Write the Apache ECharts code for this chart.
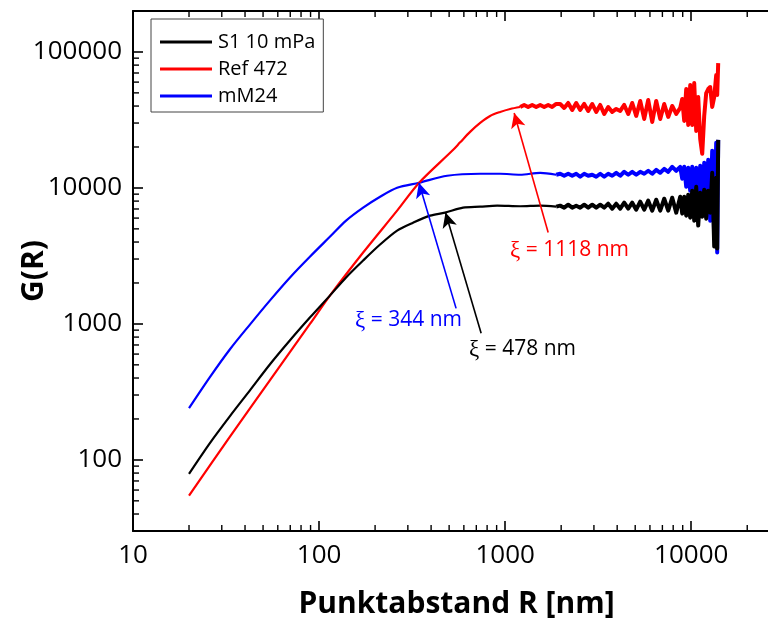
<!DOCTYPE html>
<html>
<head>
<meta charset="utf-8">
<script src="https://cdn.jsdelivr.net/npm/echarts@6/dist/echarts.min.js"></script>
<style>
  html, body { margin: 0; padding: 0; background: #fff; }
  #chart { width: 768px; height: 625px; }
</style>
</head>
<body>
<div id="chart"></div>
<script>
// ---- Axis ranges (log-log) ----
const X_MIN = 10, X_MAX = 30000;
const Y_MIN = 30, Y_MAX = 200000;

// Minor tick positions (2..9 within each decade)
const X_MINOR = [20, 30, 40, 50, 60, 70, 80, 90, 200, 300, 400, 500, 600, 700, 800, 900,
                 2000, 3000, 4000, 5000, 6000, 7000, 8000, 9000, 20000];
const Y_MINOR = [40, 50, 60, 70, 80, 90, 200, 300, 400, 500, 600, 700, 800, 900,
                 2000, 3000, 4000, 5000, 6000, 7000, 8000, 9000,
                 20000, 30000, 40000, 50000, 60000, 70000, 80000, 90000];

// Shared distance grids (R in nm) for the noisy plateau and the tail
const R_BAND = [1976, 2077, 2182, 2293, 2409, 2531, 2660, 2795, 2937, 3086, 3243, 3407, 3580,
                3762, 3953, 4154, 4364, 4586, 4819, 5063, 5320, 5590, 5874, 6172, 6485, 6814,
                7160, 7523, 7905, 8306, 8728];
const R_TAIL = [8946, 9170, 9400, 9636, 9877, 10124, 10378, 10638, 10904, 11177, 11457, 11744,
                12038, 12339, 12648, 12965, 13290, 13622, 13792, 13963];

// S1 10 mPa
const S1_HEAD_R = [20, 25.9, 33.2, 42.6, 54.5, 69.8, 89.5, 114.6, 139.7, 172.5, 212.8, 262.7,
                   320, 395, 475, 594, 734, 906, 1204, 1543, 1881];
const S1_HEAD_G = [79, 133, 210, 326, 505, 758, 1118, 1621, 2197, 2926, 3834, 4855,
                   5555, 6254, 6580, 7160, 7280, 7405, 7330, 7405, 7280];
const S1_BAND_G = [7405, 7158, 7530, 7158, 7405, 7158, 7530, 7158, 7530, 7158, 7530, 7158, 7657,
                   7037, 7657, 7037, 7787, 7037, 7787, 6920, 7921, 6920, 8056, 6804, 8193, 6804,
                   8332, 6804, 8475, 6580, 8617];
const S1_TAIL_G = [6470, 8617, 6254, 8913, 6046, 9537, 5746, 10200, 5283, 9219, 6150, 9701,
                   5944, 9537, 6580, 12920, 3706, 11880, 3583, 22560];

// Ref 472
const REF_HEAD_R = [20, 33.2, 54.5, 89.5, 114.6, 172.5, 262.7, 345, 519, 573, 648, 734, 830,
                    940, 1064, 1204];
const REF_HEAD_G = [54.5, 148.5, 386, 1003, 1621, 3350, 6804, 10920, 18740, 21630, 25830, 30060,
                    33830, 36190, 38070, 39380];
const REF_SHELF_R = [1265, 1329, 1397, 1468, 1543, 1621, 1703, 1789, 1881];
const REF_SHELF_G = [40740, 39380, 40740, 39380, 40740, 39380, 40740, 39380, 41430];
const REF_BAND_G = [41430, 38730, 42140, 37440, 42140, 37440, 41430, 36810, 41430, 36190, 40740,
                    34990, 39380, 36190, 38070, 36810, 40740, 34990, 42140, 33830, 43590, 32160,
                    44320, 30570, 43590, 32160, 41430, 33260, 40050, 34990, 38730];
const REF_TAIL_G = [45070, 31090, 53360, 29070, 57090, 29070, 59050, 26260, 46620, 22950, 17810,
                    33830, 49870, 53360, 55200, 39380, 46620, 67580, 48230, 82780];

// mM24
const MM_HEAD_R = [20, 25.9, 33.2, 42.6, 54.5, 69.8, 89.5, 114.6, 139.7, 172.5, 212.8, 262.7,
                   345, 488, 734, 940, 1204, 1543, 1881];
const MM_HEAD_G = [240, 406, 651, 993, 1490, 2196, 3131, 4387, 5746, 7160, 8617, 10035,
                   10920, 12290, 12710, 12710, 12500, 12920, 12500];
const MM_BAND_G = [12710, 12290, 12710, 12290, 12710, 12080, 12710, 12290, 12500, 12080, 12710,
                   12080, 12710, 12290, 12920, 12290, 13140, 12500, 13140, 12500, 13140, 12710,
                   13370, 12710, 13590, 12920, 13820, 13140, 14300, 13370, 14300];
const MM_TAIL_G = [11680, 14300, 10200, 14060, 9537, 14300, 9378, 14060, 9219, 14540, 8056, 15300,
                   6580, 16090, 5746, 18740, 4243, 21450, 3349, 22560];

// Correlation lengths: arrow tail [R, G] and head [R, G]
const XI_S1 = { tail: [743, 853], head: [478, 6600] };
const XI_REF = { tail: [1703, 4695], head: [1118, 35600] };
const XI_MM = { tail: [545, 1301], head: [344, 10900] };

function pairs(rs, gs) { return rs.map((r, i) => [r, gs[i]]); }
function lastOf(rs, gs) { return [[rs[rs.length - 1], gs[gs.length - 1]]]; }

const FONT = '"Open Sans", "Noto Sans", sans-serif';
const THIN = 2.2, THICK = 4;

function arrow(xi, color) {
  return {
    silent: true,
    animation: false,
    symbol: ['none', 'arrow'],
    symbolSize: [11, 15],
    label: { show: false },
    lineStyle: { color: color, width: 1.6, type: 'solid' },
    data: [[{ coord: xi.tail }, { coord: xi.head }]]
  };
}

function line(name, color, data, width, z, extra) {
  return Object.assign({
    name: name, type: 'line', data: data, symbol: 'none', color: color, z: z,
    lineStyle: { width: width, color: color, join: 'round' }, clip: true
  }, extra || {});
}

// smooth rising part of each curve
function head(name, color, data, z, xi) {
  return line(name, color, data, THIN, z, { smooth: 0.3, markLine: arrow(xi, color) });
}

function powLabel(v) {
  const e = Math.log10(v);
  return Math.abs(e - Math.round(e)) < 1e-6 ? String(Math.round(v)) : '';
}

const axisCommon = {
  type: 'log',
  logBase: 10,
  axisLine: { show: true, lineStyle: { color: '#000', width: 2 } },
  axisTick: { show: true, inside: true, length: 10, lineStyle: { color: '#000', width: 1.6 } },
  splitLine: { show: false },
  minorTick: { show: false },
};

const chart = echarts.init(document.getElementById('chart'), null, { renderer: 'canvas' });

chart.setOption({
  animation: false,
  backgroundColor: '#fff',
  grid: { left: 133, top: 11, width: 647, height: 520, outerBoundsMode: 'none' },
  legend: {
    data: ['S1 10 mPa', 'Ref 472', 'mM24'],
    orient: 'vertical',
    left: 151, top: 19,
    padding: [13, 8, 6, 9],
    itemWidth: 52, itemHeight: 3, itemGap: 7,
    icon: 'rect',
    borderColor: '#444', borderWidth: 1,
    backgroundColor: '#fff',
    textStyle: { fontFamily: FONT, fontSize: 20, color: '#000', lineHeight: 20, padding: [0, 0, 0, 1] }
  },
  xAxis: [
    Object.assign({}, axisCommon, {
      min: X_MIN, max: X_MAX, position: 'bottom',
      name: 'Punktabstand R [nm]', nameLocation: 'middle', nameGap: 58, nameMoveOverlap: false,
      nameTextStyle: { fontFamily: FONT, fontSize: 30, fontWeight: 'bold', color: '#000' },
      axisLabel: { show: true, margin: 12, fontFamily: FONT, fontSize: 26, color: '#000',
                   formatter: powLabel, showMaxLabel: false }
    }),
    Object.assign({}, axisCommon, {
      min: X_MIN, max: X_MAX, position: 'top',
      axisLabel: { show: false }
    })
  ],
  yAxis: [
    Object.assign({}, axisCommon, {
      min: Y_MIN, max: Y_MAX, position: 'left',
      name: 'G(R)', nameLocation: 'middle', nameGap: 84, nameRotate: 90, nameMoveOverlap: false,
      nameTextStyle: { fontFamily: FONT, fontSize: 30, fontWeight: 'bold', color: '#000' },
      axisLabel: { show: true, margin: 11, fontFamily: FONT, fontSize: 26, color: '#000',
                   formatter: powLabel, showMinLabel: false, showMaxLabel: false }
    })
  ],
  series: [
    head('mM24', '#0000ff', pairs(MM_HEAD_R, MM_HEAD_G), 2, XI_MM),
    line('mM24', '#0000ff',
         lastOf(MM_HEAD_R, MM_HEAD_G).concat(pairs(R_BAND, MM_BAND_G), pairs(R_TAIL, MM_TAIL_G)), THICK, 2),
    head('Ref 472', '#ff0000', pairs(REF_HEAD_R, REF_HEAD_G), 3, XI_REF),
    line('Ref 472', '#ff0000',
         lastOf(REF_HEAD_R, REF_HEAD_G).concat(pairs(REF_SHELF_R, REF_SHELF_G),
                                              pairs(R_BAND, REF_BAND_G), pairs(R_TAIL, REF_TAIL_G)), THICK, 3),
    head('S1 10 mPa', '#000000', pairs(S1_HEAD_R, S1_HEAD_G), 4, XI_S1),
    line('S1 10 mPa', '#000000',
         lastOf(S1_HEAD_R, S1_HEAD_G).concat(pairs(R_BAND, S1_BAND_G), pairs(R_TAIL, S1_TAIL_G)), THICK, 4),
    {
      // minor ticks on the bottom and top x axes
      type: 'custom', silent: true, clip: false, z: 5,
      data: X_MINOR.map(v => [v, Y_MIN]),
      renderItem: function (params, api) {
        const v = api.value(0);
        const b = api.coord([v, Y_MIN]);
        const t = api.coord([v, Y_MAX]);
        const st = { stroke: '#000', lineWidth: 1.4 };
        return { type: 'group', children: [
          { type: 'line', shape: { x1: b[0], y1: b[1], x2: b[0], y2: b[1] - 6 }, style: st },
          { type: 'line', shape: { x1: t[0], y1: t[1], x2: t[0], y2: t[1] + 6 }, style: st }
        ] };
      }
    },
    {
      // minor ticks on the left y axis
      type: 'custom', silent: true, clip: false, z: 5,
      data: Y_MINOR.map(v => [X_MIN, v]),
      renderItem: function (params, api) {
        const v = api.value(1);
        const p = api.coord([X_MIN, v]);
        return { type: 'line', shape: { x1: p[0], y1: p[1], x2: p[0] + 6, y2: p[1] },
                 style: { stroke: '#000', lineWidth: 1.4 } };
      }
    }
  ],
  graphic: [
    { type: 'text', left: 510, top: 239, z: 10,
      style: { text: '{g|ξ} = 1118 nm', fill: '#ff0000', font: '21px ' + FONT,
               rich: { g: { fontFamily: '"Liberation Serif", serif', fontSize: 23, fill: '#ff0000' } } } },
    { type: 'text', left: 355, top: 309, z: 10,
      style: { text: '{g|ξ} = 344 nm', fill: '#0000ff', font: '21px ' + FONT,
               rich: { g: { fontFamily: '"Liberation Serif", serif', fontSize: 23, fill: '#0000ff' } } } },
    { type: 'text', left: 469, top: 338, z: 10,
      style: { text: '{g|ξ} = 478 nm', fill: '#000000', font: '21px ' + FONT,
               rich: { g: { fontFamily: '"Liberation Serif", serif', fontSize: 23, fill: '#000000' } } } }
  ]
});
</script>
</body>
</html>
